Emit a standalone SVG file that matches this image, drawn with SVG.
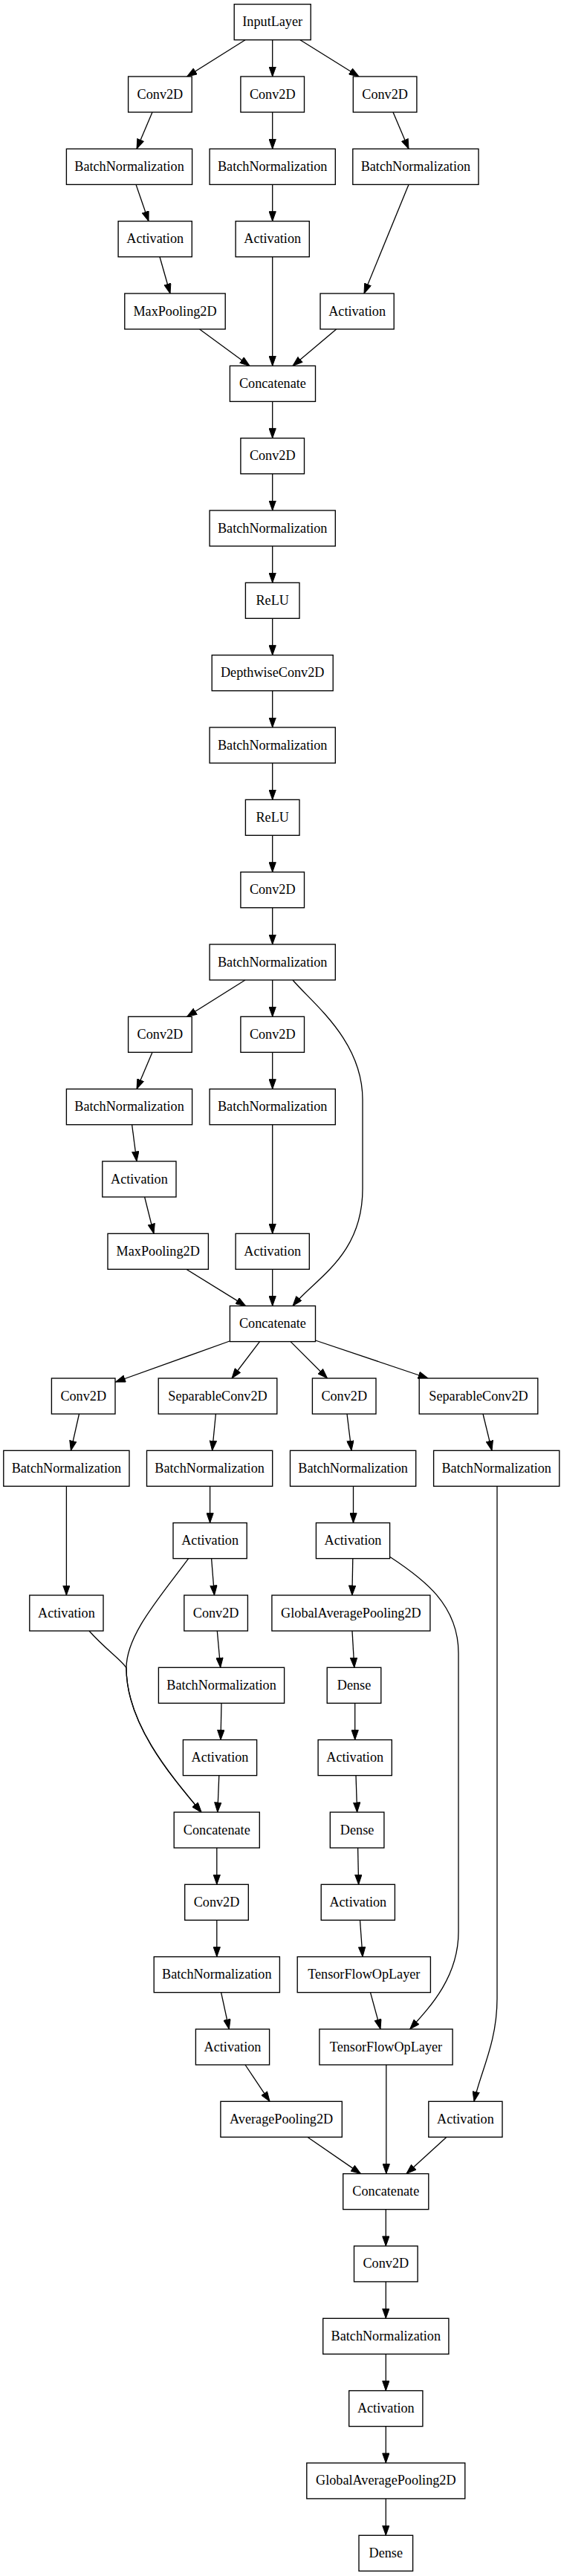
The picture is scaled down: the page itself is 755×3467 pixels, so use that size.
<svg xmlns="http://www.w3.org/2000/svg" width="755" height="3467" viewBox="0 0 755 3467">
<style>
rect{fill:#fff;stroke:#000;stroke-width:1.35}
text{font-family:"Liberation Serif","Times New Roman",serif;font-size:18.2px;text-anchor:middle;fill:#000}
#edges path{fill:none;stroke:#000;stroke-width:1.3;marker-end:url(#arr)}
</style>
<defs>
<marker id="arr" viewBox="0 0 14 10" refX="13.5" refY="5" markerWidth="14" markerHeight="10" markerUnits="userSpaceOnUse" orient="auto"><path d="M0.5,0.4 L13.5,5 L0.5,9.6 z" fill="#000" stroke="#000" stroke-width="1"/></marker>
</defs>
<rect x="0" y="0" width="755" height="3467" style="fill:#fff;stroke:none"/>
<g id="edges">
<path d="M330,53.7 L251.7,103"/>
<path d="M366.7,53.7 L366.7,103"/>
<path d="M404,53.7 L483,103"/>
<path d="M205,151 L184,200.4"/>
<path d="M366.7,151 L366.7,200.4"/>
<path d="M529,151 L550,200.4"/>
<path d="M183,248.4 L200,297.7"/>
<path d="M366.7,248.4 L366.7,297.7"/>
<path d="M550,248.4 L490,395"/>
<path d="M215,345.7 L229,395"/>
<path d="M366.7,345.7 L366.7,492.4"/>
<path d="M268.5,443 L336,492.4"/>
<path d="M452.7,443 L394,492.4"/>
<path d="M366.7,540.4 L366.7,589.7"/>
<path d="M366.7,637.7 L366.7,687"/>
<path d="M366.7,735 L366.7,784.3"/>
<path d="M366.7,832.3 L366.7,881.7"/>
<path d="M366.7,929.7 L366.7,979"/>
<path d="M366.7,1027 L366.7,1076.3"/>
<path d="M366.7,1124.3 L366.7,1173.7"/>
<path d="M366.7,1221.7 L366.7,1271"/>
<path d="M330,1319 L251.7,1368.3"/>
<path d="M366.7,1319 L366.7,1368.3"/>
<path d="M394,1319 C420,1350 488,1400 488,1480 L488,1600 C488,1690 425,1720 394,1757.6"/>
<path d="M205,1416.3 L184,1465.7"/>
<path d="M366.7,1416.3 L366.7,1465.7"/>
<path d="M177.6,1513.7 L184,1563"/>
<path d="M366.7,1513.7 L366.7,1660.3"/>
<path d="M194.6,1611 L207,1660.3"/>
<path d="M250.7,1708.3 L330.6,1757.6"/>
<path d="M366.7,1708.3 L366.7,1757.6"/>
<path d="M309,1805 L155.5,1860"/>
<path d="M349.5,1805.6 L312,1855"/>
<path d="M391,1805.6 L440.5,1855"/>
<path d="M424.5,1804 L576,1855"/>
<path d="M106.5,1903 L95.4,1952.3"/>
<path d="M290.4,1903 L285.6,1952.3"/>
<path d="M467,1903 L473,1952.3"/>
<path d="M650,1903 L662,1952.3"/>
<path d="M282.6,2000.3 L282.6,2049.6"/>
<path d="M475.5,2000.3 L475.5,2049.6"/>
<path d="M89.4,2000.3 L89.4,2147"/>
<path d="M669,2000.3 L669,2690 C669,2750 646,2790 638,2828.3"/>
<path d="M284.6,2097.6 L288.5,2147"/>
<path d="M474.8,2097.6 L473.9,2147"/>
<path d="M253.6,2097.6 C215,2150 170,2200 170,2245 C170,2320 230,2390 271,2439"/>
<path d="M525,2095.5 C570,2125 617,2160 617,2225 L617,2600 C617,2660 580,2700 551.7,2731"/>
<path d="M292.3,2195 L296.7,2244.3"/>
<path d="M474,2195 L476.8,2244.3"/>
<path d="M120,2195 C142,2220 166,2236 170,2245 C170,2320 230,2390 271,2439"/>
<path d="M298,2292.3 L297,2341.6"/>
<path d="M477.7,2292.3 L477.7,2341.6"/>
<path d="M294.8,2389.6 L292.8,2439"/>
<path d="M479,2389.6 L480.6,2439"/>
<path d="M291.8,2487 L291.8,2536.3"/>
<path d="M481.6,2487 L482.6,2536.3"/>
<path d="M291.8,2584.3 L291.8,2633.6"/>
<path d="M484.5,2584.3 L488,2633.6"/>
<path d="M297.6,2681.6 L308.3,2731"/>
<path d="M498.5,2681.6 L512,2731"/>
<path d="M330,2779 L363,2828.3"/>
<path d="M519.8,2779 L519.8,2925.6"/>
<path d="M413.8,2876.3 L485.5,2925.6"/>
<path d="M601,2876.3 L547,2925.6"/>
<path d="M519.3,2973.6 L519.3,3022.9"/>
<path d="M519.3,3070.9 L519.3,3120.3"/>
<path d="M519.3,3168.3 L519.3,3217.6"/>
<path d="M519.3,3265.6 L519.3,3314.9"/>
<path d="M519.3,3362.9 L519.3,3412.3"/>
</g>
<g id="n01"><rect x="315.2" y="5.7" width="103" height="48"/><text x="366.7" y="35.2">InputLayer</text></g>
<g id="n02a"><rect x="172.6" y="103" width="85.6" height="48"/><text x="215.4" y="132.5">Conv2D</text></g>
<g id="n02b"><rect x="323.9" y="103" width="85.6" height="48"/><text x="366.7" y="132.5">Conv2D</text></g>
<g id="n02c"><rect x="475.3" y="103" width="85.6" height="48"/><text x="518.1" y="132.5">Conv2D</text></g>
<g id="n03a"><rect x="89.4" y="200.4" width="169.2" height="48"/><text x="174" y="229.9">BatchNormalization</text></g>
<g id="n03b"><rect x="282.1" y="200.4" width="169.2" height="48"/><text x="366.7" y="229.9">BatchNormalization</text></g>
<g id="n03c"><rect x="474.8" y="200.4" width="169.2" height="48"/><text x="559.4" y="229.9">BatchNormalization</text></g>
<g id="n04a"><rect x="159.1" y="297.7" width="99.2" height="48"/><text x="208.7" y="327.2">Activation</text></g>
<g id="n04b"><rect x="317.1" y="297.7" width="99.2" height="48"/><text x="366.7" y="327.2">Activation</text></g>
<g id="n05a"><rect x="167.8" y="395" width="135.4" height="48"/><text x="235.5" y="424.5">MaxPooling2D</text></g>
<g id="n05c"><rect x="431" y="395" width="99.2" height="48"/><text x="480.6" y="424.5">Activation</text></g>
<g id="n06"><rect x="309.4" y="492.4" width="115.1" height="48"/><text x="366.9" y="521.9">Concatenate</text></g>
<g id="n07"><rect x="323.9" y="589.7" width="85.6" height="48"/><text x="366.7" y="619.2">Conv2D</text></g>
<g id="n08"><rect x="282.1" y="687" width="169.2" height="48"/><text x="366.7" y="716.5">BatchNormalization</text></g>
<g id="n09"><rect x="330.4" y="784.3" width="72.6" height="48"/><text x="366.7" y="813.8">ReLU</text></g>
<g id="n10"><rect x="285.2" y="881.7" width="163" height="48"/><text x="366.7" y="911.2">DepthwiseConv2D</text></g>
<g id="n11"><rect x="282.1" y="979" width="169.2" height="48"/><text x="366.7" y="1008.5">BatchNormalization</text></g>
<g id="n12"><rect x="330.4" y="1076.3" width="72.6" height="48"/><text x="366.7" y="1105.8">ReLU</text></g>
<g id="n13"><rect x="323.9" y="1173.7" width="85.6" height="48"/><text x="366.7" y="1203.2">Conv2D</text></g>
<g id="n14"><rect x="282.1" y="1271" width="169.2" height="48"/><text x="366.7" y="1300.5">BatchNormalization</text></g>
<g id="n15a"><rect x="172.6" y="1368.3" width="85.6" height="48"/><text x="215.4" y="1397.8">Conv2D</text></g>
<g id="n15b"><rect x="323.9" y="1368.3" width="85.6" height="48"/><text x="366.7" y="1397.8">Conv2D</text></g>
<g id="n16a"><rect x="89.4" y="1465.7" width="169.2" height="48"/><text x="174" y="1495.2">BatchNormalization</text></g>
<g id="n16b"><rect x="282.1" y="1465.7" width="169.2" height="48"/><text x="366.7" y="1495.2">BatchNormalization</text></g>
<g id="n17a"><rect x="137.8" y="1563" width="99.2" height="48"/><text x="187.4" y="1592.5">Activation</text></g>
<g id="n18a"><rect x="145" y="1660.3" width="135.4" height="48"/><text x="212.7" y="1689.8">MaxPooling2D</text></g>
<g id="n18b"><rect x="317.1" y="1660.3" width="99.2" height="48"/><text x="366.7" y="1689.8">Activation</text></g>
<g id="n19"><rect x="309.4" y="1757.6" width="115.1" height="48"/><text x="366.9" y="1787.1">Concatenate</text></g>
<g id="n20a"><rect x="69.4" y="1855" width="85.6" height="48"/><text x="112.2" y="1884.5">Conv2D</text></g>
<g id="n20b"><rect x="213.2" y="1855" width="159.6" height="48"/><text x="293" y="1884.5">SeparableConv2D</text></g>
<g id="n20c"><rect x="420.4" y="1855" width="85.6" height="48"/><text x="463.2" y="1884.5">Conv2D</text></g>
<g id="n20d"><rect x="564.2" y="1855" width="159.6" height="48"/><text x="644" y="1884.5">SeparableConv2D</text></g>
<g id="n21a"><rect x="4.8" y="1952.3" width="169.2" height="48"/><text x="89.4" y="1981.8">BatchNormalization</text></g>
<g id="n21b"><rect x="197.5" y="1952.3" width="169.2" height="48"/><text x="282.1" y="1981.8">BatchNormalization</text></g>
<g id="n21c"><rect x="390.5" y="1952.3" width="169.2" height="48"/><text x="475.1" y="1981.8">BatchNormalization</text></g>
<g id="n21d"><rect x="583.6" y="1952.3" width="169.2" height="48"/><text x="668.2" y="1981.8">BatchNormalization</text></g>
<g id="n22b"><rect x="233" y="2049.6" width="99.2" height="48"/><text x="282.6" y="2079.1">Activation</text></g>
<g id="n22c"><rect x="425.4" y="2049.6" width="99.2" height="48"/><text x="475" y="2079.1">Activation</text></g>
<g id="n23a"><rect x="39.8" y="2147" width="99.2" height="48"/><text x="89.4" y="2176.5">Activation</text></g>
<g id="n23b"><rect x="247.8" y="2147" width="85.6" height="48"/><text x="290.6" y="2176.5">Conv2D</text></g>
<g id="n23c"><rect x="365.9" y="2147" width="213" height="48"/><text x="472.4" y="2176.5">GlobalAveragePooling2D</text></g>
<g id="n24b"><rect x="213.4" y="2244.3" width="169.2" height="48"/><text x="298" y="2273.8">BatchNormalization</text></g>
<g id="n24c"><rect x="440.2" y="2244.3" width="72.6" height="48"/><text x="476.5" y="2273.8">Dense</text></g>
<g id="n25b"><rect x="246.4" y="2341.6" width="99.2" height="48"/><text x="296" y="2371.1">Activation</text></g>
<g id="n25c"><rect x="428.1" y="2341.6" width="99.2" height="48"/><text x="477.7" y="2371.1">Activation</text></g>
<g id="n26b"><rect x="234.2" y="2439" width="115.1" height="48"/><text x="291.8" y="2468.5">Concatenate</text></g>
<g id="n26c"><rect x="444.3" y="2439" width="72.6" height="48"/><text x="480.6" y="2468.5">Dense</text></g>
<g id="n27b"><rect x="248.7" y="2536.3" width="85.6" height="48"/><text x="291.5" y="2565.8">Conv2D</text></g>
<g id="n27c"><rect x="432.2" y="2536.3" width="99.2" height="48"/><text x="481.8" y="2565.8">Activation</text></g>
<g id="n28b"><rect x="207.2" y="2633.6" width="169.2" height="48"/><text x="291.8" y="2663.1">BatchNormalization</text></g>
<g id="n28c"><rect x="400.2" y="2633.6" width="179.2" height="48"/><text x="489.8" y="2663.1">TensorFlowOpLayer</text></g>
<g id="n29b"><rect x="263.4" y="2731" width="99.2" height="48"/><text x="313" y="2760.5">Activation</text></g>
<g id="n29c"><rect x="429.9" y="2731" width="179.2" height="48"/><text x="519.5" y="2760.5">TensorFlowOpLayer</text></g>
<g id="n30b"><rect x="296.9" y="2828.3" width="163.4" height="48"/><text x="378.6" y="2857.8">AveragePooling2D</text></g>
<g id="n30d"><rect x="576.8" y="2828.3" width="99.2" height="48"/><text x="626.4" y="2857.8">Activation</text></g>
<g id="n31"><rect x="461.7" y="2925.6" width="115.1" height="48"/><text x="519.3" y="2955.1">Concatenate</text></g>
<g id="n32"><rect x="476.5" y="3022.9" width="85.6" height="48"/><text x="519.3" y="3052.4">Conv2D</text></g>
<g id="n33"><rect x="434.7" y="3120.3" width="169.2" height="48"/><text x="519.3" y="3149.8">BatchNormalization</text></g>
<g id="n34"><rect x="469.7" y="3217.6" width="99.2" height="48"/><text x="519.3" y="3247.1">Activation</text></g>
<g id="n35"><rect x="412.8" y="3314.9" width="213" height="48"/><text x="519.3" y="3344.4">GlobalAveragePooling2D</text></g>
<g id="n36"><rect x="483" y="3412.3" width="72.6" height="48"/><text x="519.3" y="3441.8">Dense</text></g>
</svg>
